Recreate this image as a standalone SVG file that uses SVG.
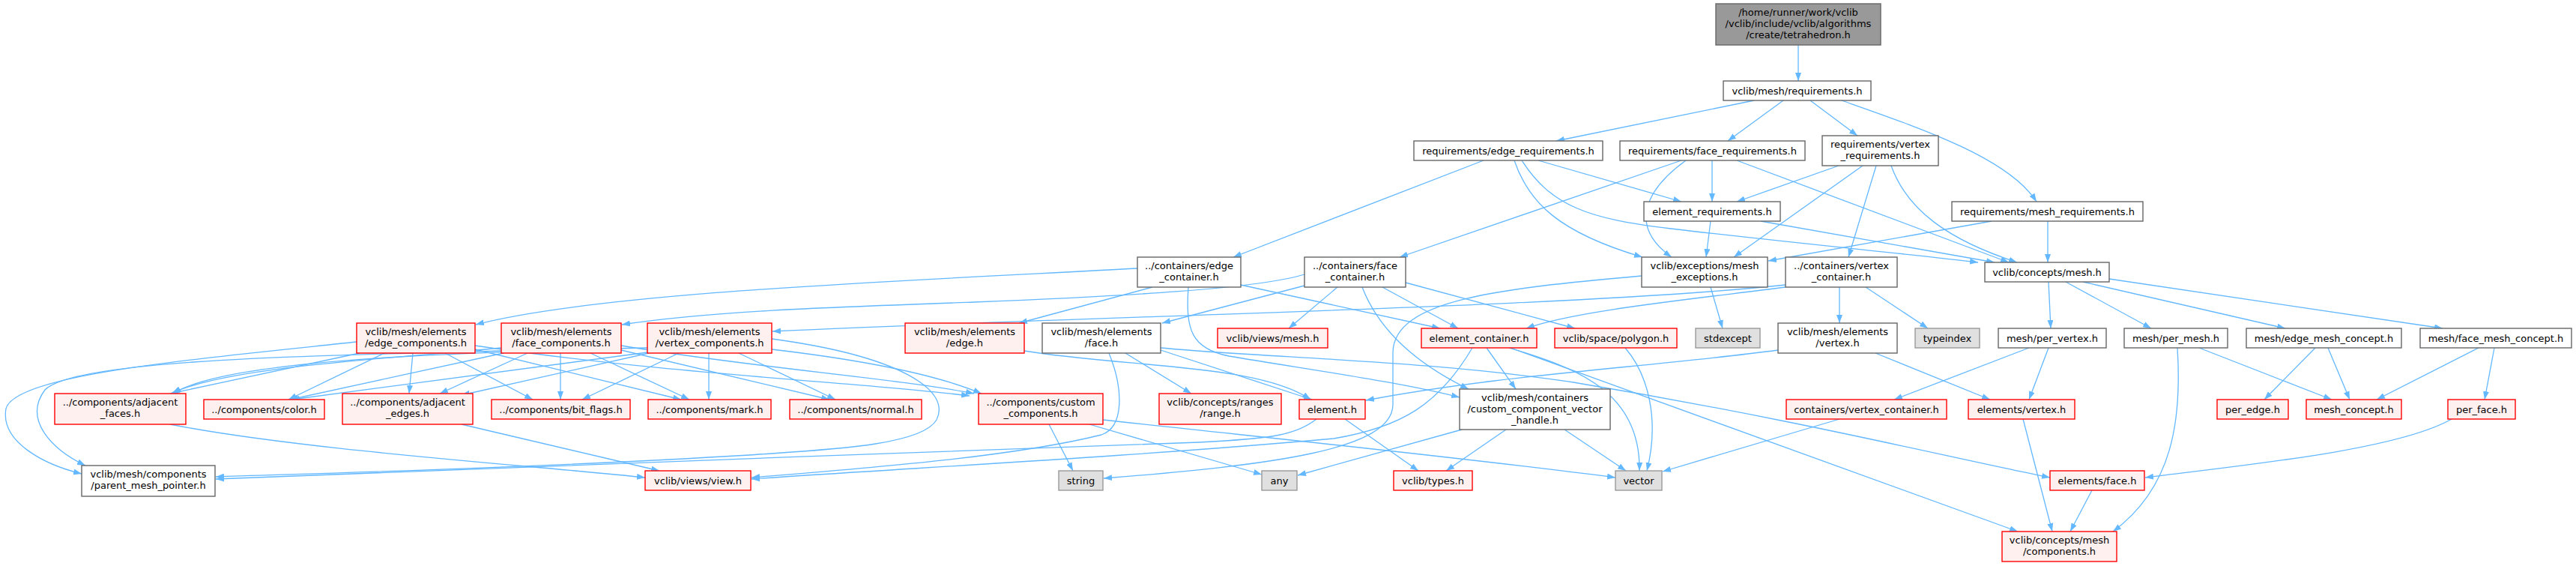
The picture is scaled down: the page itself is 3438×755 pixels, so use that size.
<svg xmlns="http://www.w3.org/2000/svg" width="3438" height="755" viewBox="0 0 3438 755">
<style>
.bg{fill:#ffffff}
.w rect{fill:#ffffff;stroke:#666666;stroke-width:1.4}
.r rect{fill:#fff0f0;stroke:#ff0000;stroke-width:1.4}
.g rect{fill:#e0e0e0;stroke:#999999;stroke-width:1.4}
.top rect{fill:#999999;stroke:#666666;stroke-width:1.4}
text{font-family:"DejaVu Sans","Liberation Sans",sans-serif;font-size:13px;fill:#000000;text-anchor:middle}
#edges path{fill:none;stroke:#63b8ff;stroke-width:1.3;marker-end:url(#ah)}
</style>
<defs>
<marker id="ah" viewBox="0 0 11 8" refX="11" refY="4" markerWidth="11" markerHeight="8" markerUnits="userSpaceOnUse" orient="auto"><path d="M0,0L11,4L0,8z" fill="#63b8ff"/></marker>
</defs>
<rect class="bg" x="0" y="0" width="3438" height="755"/>
<g id="edges">
<path d="M2400,60L2400,108"/>
<path d="M2341,134L2077,188"/>
<path d="M2380,134L2306,188"/>
<path d="M2416,134L2479,181"/>
<path d="M2458,134C2560,170 2680,210 2718,269"/>
<path d="M1980,214L1646,343"/>
<path d="M2021,214C2040,270 2080,310 2192,343"/>
<path d="M2031,214C2070,275 2120,292 2230,305C2400,325 2560,340 2640,350"/>
<path d="M2053,214L2244,269"/>
<path d="M2244,214L1868,343"/>
<path d="M2250,214C2200,250 2170,300 2231,343"/>
<path d="M2285,214L2285,269"/>
<path d="M2318,214L2681,350"/>
<path d="M2454,221L2318,269"/>
<path d="M2486,221L2314,343"/>
<path d="M2504,221L2467,343"/>
<path d="M2524,221C2545,280 2600,320 2692,350"/>
<path d="M2283,295L2277,343"/>
<path d="M2350,295L2662,350"/>
<path d="M2658,295L2360,348"/>
<path d="M2733,295L2733,350"/>
<path d="M1518,358C1200,375 800,390 635,433"/>
<path d="M1538,383L1360,431"/>
<path d="M1656,380L1922,438"/>
<path d="M1586,383C1582,440 1590,465 1640,475C1760,495 1870,510 1948,530"/>
<path d="M1741,366C1680,385 1500,395 1300,403C1100,410 950,415 830,433"/>
<path d="M1741,381L1551,431"/>
<path d="M1785,383L1720,438"/>
<path d="M1818,383C1840,440 1890,485 1960,519"/>
<path d="M1845,383L1946,438"/>
<path d="M1876,377L2102,438"/>
<path d="M2283,383L2299,438"/>
<path d="M2191,368C2000,385 1860,400 1859,470L1859,540C1858,600 1700,620 1473,638"/>
<path d="M2383,380C2100,410 1500,420 1031,442"/>
<path d="M2383,383C2250,400 2100,415 2037,438"/>
<path d="M2455,383L2455,431"/>
<path d="M2490,383L2573,438"/>
<path d="M2734,376L2737,438"/>
<path d="M2757,376L2871,438"/>
<path d="M2780,376L3050,438"/>
<path d="M2815,372L3260,438"/>
<path d="M476,456C250,480 20,500 8,545C0,590 60,620 109,632"/>
<path d="M669,468C400,475 100,480 60,520C30,560 70,600 114,621"/>
<path d="M480,471L227,525"/>
<path d="M513,471L385,533"/>
<path d="M551,471L546,525"/>
<path d="M594,471L711,533"/>
<path d="M634,466L909,533"/>
<path d="M634,461C900,500 1150,510 1294,528"/>
<path d="M669,464C500,480 300,490 229,525"/>
<path d="M672,471L387,533"/>
<path d="M704,471L587,525"/>
<path d="M748,471L748,533"/>
<path d="M788,471L920,533"/>
<path d="M829,467L1107,533"/>
<path d="M829,461C1000,490 1200,505 1300,525"/>
<path d="M864,464C600,470 300,480 231,525"/>
<path d="M864,470L389,533"/>
<path d="M866,471L616,527"/>
<path d="M906,471L777,533"/>
<path d="M946,471L946,533"/>
<path d="M986,471L1115,533"/>
<path d="M1030,466C1150,480 1250,500 1310,525"/>
<path d="M1030,452C1200,475 1270,520 1250,560C1230,595 1100,600 1000,607C700,625 400,632 288,636"/>
<path d="M1367,468C1500,490 1680,485 1749,533"/>
<path d="M1502,471L1590,525"/>
<path d="M1549,467L1751,533"/>
<path d="M1480,471C1500,520 1500,570 1470,580C1350,610 1150,625 1003,637"/>
<path d="M1549,464C1700,478 1900,480 2100,510C2400,560 2600,610 2736,637"/>
<path d="M1984,464L2023,519"/>
<path d="M2014,464C2100,490 2190,520 2188,628"/>
<path d="M2016,464L2693,709"/>
<path d="M1965,464C1920,540 1870,570 1780,585C1500,610 1200,625 1003,639"/>
<path d="M1951,573L1732,634"/>
<path d="M2010,573L1930,628"/>
<path d="M2088,573L2170,628"/>
<path d="M1757,559C1730,580 1700,585 1600,590C1200,605 600,625 288,639"/>
<path d="M1795,559L1893,628"/>
<path d="M2169,464C2200,500 2215,560 2198,628"/>
<path d="M2373,467C2200,490 2000,500 1823,534"/>
<path d="M2503,471L2656,533"/>
<path d="M2708,464L2528,533"/>
<path d="M2734,464L2708,533"/>
<path d="M2935,464L3112,533"/>
<path d="M2906,464C2912,560 2900,650 2820,709"/>
<path d="M3090,464L3022,533"/>
<path d="M3107,464L3136,533"/>
<path d="M3308,464L3172,533"/>
<path d="M3329,464L3316,533"/>
<path d="M3272,559C3200,600 3000,620 2863,637"/>
<path d="M2792,654L2763,709"/>
<path d="M2700,559L2739,709"/>
<path d="M2455,559L2219,629"/>
<path d="M1400,566L1432,628"/>
<path d="M1454,566L1684,633"/>
<path d="M1472,560C1700,585 1950,610 2156,637"/>
<path d="M227,566C400,600 700,620 861,637"/>
<path d="M616,566L880,628"/>
</g>
<g id="n1" class="top"><rect x="2290" y="5" width="220" height="55"/><text x="2400" y="21">/home/runner/work/vclib</text><text x="2400" y="36">/vclib/include/vclib/algorithms</text><text x="2400" y="51">/create/tetrahedron.h</text></g>
<g id="n2" class="w"><rect x="2300" y="108" width="197" height="26"/><text x="2398.5" y="125.5">vclib/mesh/requirements.h</text></g>
<g id="n3" class="w"><rect x="1887" y="188" width="252" height="26"/><text x="2013" y="205.5">requirements/edge_requirements.h</text></g>
<g id="n4" class="w"><rect x="2162" y="188" width="247" height="26"/><text x="2285.5" y="205.5">requirements/face_requirements.h</text></g>
<g id="n5" class="w"><rect x="2432" y="181" width="155" height="40"/><text x="2509.5" y="197">requirements/vertex</text><text x="2509.5" y="212">_requirements.h</text></g>
<g id="n6" class="w"><rect x="2194" y="269" width="182" height="26"/><text x="2285" y="286.5">element_requirements.h</text></g>
<g id="n7" class="w"><rect x="2605" y="269" width="255" height="26"/><text x="2732.5" y="286.5">requirements/mesh_requirements.h</text></g>
<g id="n8" class="w"><rect x="1518" y="343" width="138" height="40"/><text x="1587" y="359">../containers/edge</text><text x="1587" y="374">_container.h</text></g>
<g id="n9" class="w"><rect x="1741" y="343" width="135" height="40"/><text x="1808.5" y="359">../containers/face</text><text x="1808.5" y="374">_container.h</text></g>
<g id="n10" class="w"><rect x="2191" y="343" width="168" height="40"/><text x="2275" y="359">vclib/exceptions/mesh</text><text x="2275" y="374">_exceptions.h</text></g>
<g id="n11" class="w"><rect x="2383" y="343" width="149" height="40"/><text x="2457.5" y="359">../containers/vertex</text><text x="2457.5" y="374">_container.h</text></g>
<g id="n12" class="w"><rect x="2649" y="350" width="166" height="26"/><text x="2732" y="367.5">vclib/concepts/mesh.h</text></g>
<g id="n13" class="r"><rect x="476" y="431" width="158" height="40"/><text x="555" y="447">vclib/mesh/elements</text><text x="555" y="462">/edge_components.h</text></g>
<g id="n14" class="r"><rect x="669" y="431" width="160" height="40"/><text x="749" y="447">vclib/mesh/elements</text><text x="749" y="462">/face_components.h</text></g>
<g id="n15" class="r"><rect x="864" y="431" width="166" height="40"/><text x="947" y="447">vclib/mesh/elements</text><text x="947" y="462">/vertex_components.h</text></g>
<g id="n16" class="r"><rect x="1208" y="431" width="159" height="40"/><text x="1287.5" y="447">vclib/mesh/elements</text><text x="1287.5" y="462">/edge.h</text></g>
<g id="n17" class="w"><rect x="1391" y="431" width="158" height="40"/><text x="1470" y="447">vclib/mesh/elements</text><text x="1470" y="462">/face.h</text></g>
<g id="n18" class="r"><rect x="1625" y="438" width="147" height="26"/><text x="1698.5" y="455.5">vclib/views/mesh.h</text></g>
<g id="n19" class="r"><rect x="1897" y="438" width="154" height="26"/><text x="1974" y="455.5">element_container.h</text></g>
<g id="n20" class="r"><rect x="2075" y="438" width="163" height="26"/><text x="2156.5" y="455.5">vclib/space/polygon.h</text></g>
<g id="n21" class="g"><rect x="2263" y="438" width="86" height="26"/><text x="2306" y="455.5">stdexcept</text></g>
<g id="n22" class="w"><rect x="2373" y="431" width="159" height="40"/><text x="2452.5" y="447">vclib/mesh/elements</text><text x="2452.5" y="462">/vertex.h</text></g>
<g id="n23" class="g"><rect x="2556" y="438" width="86" height="26"/><text x="2599" y="455.5">typeindex</text></g>
<g id="n24" class="w"><rect x="2667" y="438" width="144" height="26"/><text x="2739" y="455.5">mesh/per_vertex.h</text></g>
<g id="n25" class="w"><rect x="2835" y="438" width="138" height="26"/><text x="2904" y="455.5">mesh/per_mesh.h</text></g>
<g id="n26" class="w"><rect x="2998" y="438" width="207" height="26"/><text x="3101.5" y="455.5">mesh/edge_mesh_concept.h</text></g>
<g id="n27" class="w"><rect x="3230" y="438" width="202" height="26"/><text x="3331" y="455.5">mesh/face_mesh_concept.h</text></g>
<g id="n28" class="r"><rect x="73" y="525" width="175" height="41"/><text x="160.5" y="541">../components/adjacent</text><text x="160.5" y="556">_faces.h</text></g>
<g id="n29" class="r"><rect x="272" y="533" width="161" height="26"/><text x="352.5" y="550.5">../components/color.h</text></g>
<g id="n30" class="r"><rect x="457" y="525" width="174" height="41"/><text x="544" y="541">../components/adjacent</text><text x="544" y="556">_edges.h</text></g>
<g id="n31" class="r"><rect x="656" y="533" width="185" height="26"/><text x="748.5" y="550.5">../components/bit_flags.h</text></g>
<g id="n32" class="r"><rect x="865" y="533" width="164" height="26"/><text x="947" y="550.5">../components/mark.h</text></g>
<g id="n33" class="r"><rect x="1054" y="533" width="176" height="26"/><text x="1142" y="550.5">../components/normal.h</text></g>
<g id="n34" class="r"><rect x="1306" y="525" width="166" height="41"/><text x="1389" y="541">../components/custom</text><text x="1389" y="556">_components.h</text></g>
<g id="n35" class="r"><rect x="1547" y="525" width="163" height="41"/><text x="1628.5" y="541">vclib/concepts/ranges</text><text x="1628.5" y="556">/range.h</text></g>
<g id="n36" class="r"><rect x="1734" y="533" width="88" height="26"/><text x="1778" y="550.5">element.h</text></g>
<g id="n37" class="w"><rect x="1948" y="519" width="201" height="54"/><text x="2048.5" y="535">vclib/mesh/containers</text><text x="2048.5" y="550">/custom_component_vector</text><text x="2048.5" y="565">_handle.h</text></g>
<g id="n38" class="r"><rect x="2384" y="533" width="214" height="26"/><text x="2491" y="550.5">containers/vertex_container.h</text></g>
<g id="n39" class="r"><rect x="2627" y="533" width="142" height="26"/><text x="2698" y="550.5">elements/vertex.h</text></g>
<g id="n40" class="r"><rect x="2959" y="533" width="95" height="26"/><text x="3006.5" y="550.5">per_edge.h</text></g>
<g id="n41" class="r"><rect x="3078" y="533" width="127" height="26"/><text x="3141.5" y="550.5">mesh_concept.h</text></g>
<g id="n42" class="r"><rect x="3267" y="533" width="90" height="26"/><text x="3312" y="550.5">per_face.h</text></g>
<g id="n43" class="w"><rect x="109" y="621" width="178" height="41"/><text x="198" y="637">vclib/mesh/components</text><text x="198" y="652">/parent_mesh_pointer.h</text></g>
<g id="n44" class="r"><rect x="861" y="628" width="141" height="26"/><text x="931.5" y="645.5">vclib/views/view.h</text></g>
<g id="n45" class="g"><rect x="1413" y="628" width="59" height="26"/><text x="1442.5" y="645.5">string</text></g>
<g id="n46" class="g"><rect x="1684" y="628" width="47" height="26"/><text x="1707.5" y="645.5">any</text></g>
<g id="n47" class="r"><rect x="1860" y="628" width="105" height="26"/><text x="1912.5" y="645.5">vclib/types.h</text></g>
<g id="n48" class="g"><rect x="2156" y="628" width="62" height="26"/><text x="2187" y="645.5">vector</text></g>
<g id="n49" class="r"><rect x="2736" y="628" width="126" height="26"/><text x="2799" y="645.5">elements/face.h</text></g>
<g id="n50" class="r"><rect x="2672" y="709" width="153" height="40"/><text x="2748.5" y="725">vclib/concepts/mesh</text><text x="2748.5" y="740">/components.h</text></g>
</svg>
